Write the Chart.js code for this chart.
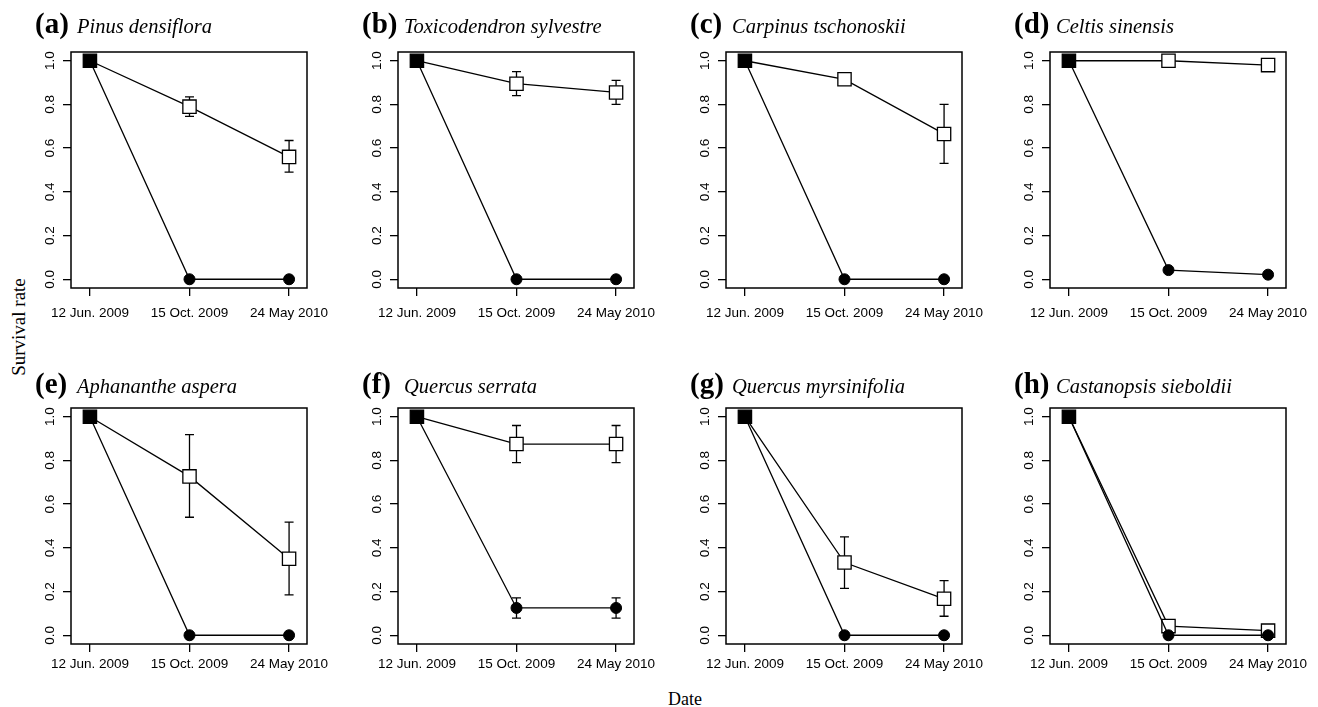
<!DOCTYPE html>
<html>
<head>
<meta charset="utf-8">
<script src="https://cdn.jsdelivr.net/npm/chart.js@4.4.1/dist/chart.umd.min.js"></script>
<style>
    html, body { margin: 0; padding: 0; background: #fff; }
    body { width: 1318px; height: 707px; position: relative; overflow: hidden; }
    canvas.panel { position: absolute; }
    .axis-title {
        position: absolute;
        font-family: 'Liberation Serif', 'Times New Roman', serif;
        color: #000;
        white-space: nowrap;
        text-align: center;
    }
    #yTitle { font-size: 19px; line-height: 20px; width: 120px; height: 20px; left: -41px; top: 317px; transform: rotate(-90deg); }
    #xTitle { font-size: 18px; line-height: 18px; width: 80px; left: 645px; top: 690px; }
</style>
</head>
<body>
<div class="axis-title" id="yTitle">Survival rate</div>
<div class="axis-title" id="xTitle">Date</div>
<script>
// sampling dates, shared by every panel
const dates = ['12 Jun. 2009', '15 Oct. 2009', '24 May 2010'];
const yTicks = [0, 0.2, 0.4, 0.6, 0.8, 1.0];

const panelLetters = ['(a)', '(b)', '(c)', '(d)', '(e)', '(f)', '(g)', '(h)'];
const speciesNames = [
    'Pinus densiflora', 'Toxicodendron sylvestre', 'Carpinus tschonoskii', 'Celtis sinensis',
    'Aphananthe aspera', 'Quercus serrata', 'Quercus myrsinifolia', 'Castanopsis sieboldii'
];

// open squares (one row per panel)
const squareMean = [
    [1, 0.79, 0.56],
    [1, 0.895, 0.855],
    [1, 0.915, 0.665],
    [1, 1, 0.98],
    [1, 0.727, 0.35],
    [1, 0.875, 0.875],
    [1, 0.333, 0.167],
    [1, 0.042, 0.021]
];
const squareLow = [
    [null, 0.745, 0.49],
    [null, 0.84, 0.80],
    [null, null, 0.53],
    [null, null, 0.965],
    [null, 0.54, 0.185],
    [null, 0.79, 0.79],
    [null, 0.215, 0.087],
    [null, null, null]
];
const squareHigh = [
    [null, 0.835, 0.635],
    [null, 0.95, 0.91],
    [null, null, 0.80],
    [null, null, 0.995],
    [null, 0.918, 0.518],
    [null, 0.96, 0.96],
    [null, 0.45, 0.25],
    [null, null, null]
];

// filled circles
const circleMean = [
    [1, 0, 0],
    [1, 0, 0],
    [1, 0, 0],
    [1, 0.042, 0.021],
    [1, 0, 0],
    [1, 0.125, 0.125],
    [1, 0, 0],
    [1, 0, 0]
];
const circleLow = [
    [null, null, null], [null, null, null], [null, null, null], [null, null, null],
    [null, null, null], [null, 0.078, 0.078], [null, null, null], [null, null, null]
];
const circleHigh = [
    [null, null, null], [null, null, null], [null, null, null], [null, null, null],
    [null, null, null], [null, 0.171, 0.171], [null, null, null], [null, null, null]
];

// layout of the plot boxes
const boxLefts = [71, 398, 726, 1050];
const boxTops = [52, 408];
const boxSize = 236;
const padTop = 40, padRight = 30, yAxisW = 45, xAxisH = 40;

const tickFont = { family: "'Liberation Sans', Arial, sans-serif", size: 13.5 };
const serif = "'Liberation Serif', 'Times New Roman', serif";

const errorBars = {
    id: 'errorBars',
    beforeDatasetsDraw(chart) {
        const ctx = chart.ctx;
        const yScale = chart.scales.y;
        ctx.save();
        ctx.strokeStyle = '#000';
        ctx.lineWidth = 1.3;
        chart.data.datasets.forEach((ds, i) => {
            const meta = chart.getDatasetMeta(i);
            (ds.errLow || []).forEach((lo, j) => {
                const hi = ds.errHigh[j];
                if (lo == null || hi == null) return;
                const x = meta.data[j].x;
                const yLo = yScale.getPixelForValue(lo);
                const yHi = yScale.getPixelForValue(hi);
                ctx.beginPath();
                ctx.moveTo(x, yLo); ctx.lineTo(x, yHi);
                ctx.moveTo(x - 4.5, yLo); ctx.lineTo(x + 4.5, yLo);
                ctx.moveTo(x - 4.5, yHi); ctx.lineTo(x + 4.5, yHi);
                ctx.stroke();
            });
        });
        ctx.restore();
    }
};

const frameAndTitle = {
    id: 'frameAndTitle',
    afterDraw(chart, args, opts) {
        const { ctx, chartArea } = chart;
        ctx.save();
        ctx.strokeStyle = '#000';
        ctx.lineWidth = 1.5;
        ctx.strokeRect(chartArea.left, chartArea.top, chartArea.right - chartArea.left, chartArea.bottom - chartArea.top);
        ctx.fillStyle = '#000';
        ctx.textBaseline = 'alphabetic';
        ctx.textAlign = 'left';
        const ty = chartArea.top - opts.gap;
        ctx.font = 'bold 29px ' + serif;
        ctx.fillText(opts.letter, chartArea.left - 36, ty);
        ctx.font = 'italic 20.5px ' + serif;
        ctx.fillText(opts.species, chartArea.left + 6, ty);
        ctx.restore();
    }
};

function noPadding(s) {
    s.paddingLeft = 0;
    s.paddingRight = 0;
    s.paddingTop = 0;
    s.paddingBottom = 0;
}

function makePanel(p) {
    const row = Math.floor(p / 4), col = p % 4;
    const canvas = document.createElement('canvas');
    canvas.className = 'panel';
    const w = yAxisW + boxSize + padRight;
    const h = padTop + boxSize + xAxisH;
    canvas.width = w;
    canvas.height = h;
    canvas.style.width = w + 'px';
    canvas.style.height = h + 'px';
    canvas.style.left = (boxLefts[col] - yAxisW) + 'px';
    canvas.style.top = (boxTops[row] - padTop) + 'px';
    document.body.appendChild(canvas);

    const toPoints = arr => arr.map((v, i) => ({ x: i + 1, y: v }));

    new Chart(canvas.getContext('2d'), {
        type: 'line',
        data: {
            datasets: [
                {
                    label: 'circle',
                    data: toPoints(circleMean[p]),
                    errLow: circleLow[p],
                    errHigh: circleHigh[p],
                    borderColor: '#000',
                    borderWidth: 1.3,
                    tension: 0,
                    pointStyle: 'circle',
                    pointRadius: 5.5,
                    pointBackgroundColor: '#000',
                    pointBorderColor: '#000',
                    pointBorderWidth: 1
                },
                {
                    label: 'square',
                    data: toPoints(squareMean[p]),
                    errLow: squareLow[p],
                    errHigh: squareHigh[p],
                    borderColor: '#000',
                    borderWidth: 1.3,
                    tension: 0,
                    pointStyle: 'rect',
                    pointRadius: 9.4,
                    pointBackgroundColor: squareMean[p].map((v, i) => i === 0 ? '#000' : '#fff'),
                    pointBorderColor: '#000',
                    pointBorderWidth: 1.3
                }
            ]
        },
        options: {
            responsive: false,
            animation: false,
            devicePixelRatio: 1,
            layout: { padding: { top: padTop, right: padRight, left: 0, bottom: 0 } },
            plugins: {
                legend: { display: false },
                tooltip: { enabled: false },
                frameAndTitle: { letter: panelLetters[p], species: speciesNames[p], gap: row === 0 ? 19 : 15 }
            },
            scales: {
                x: {
                    type: 'linear',
                    min: 0.81,
                    max: 3.18,
                    afterBuildTicks: s => { s.ticks = dates.map((d, i) => ({ value: i + 1 })); },
                    afterFit: s => { s.height = xAxisH; noPadding(s); },
                    border: { display: false },
                    grid: { drawOnChartArea: false, drawTicks: true, tickLength: 8, color: '#000', lineWidth: 1.3 },
                    ticks: {
                        callback: v => dates[Math.round(v) - 1],
                        font: tickFont,
                        color: '#000',
                        padding: row === 0 ? 9 : 4,
                        maxRotation: 0,
                        autoSkip: false
                    }
                },
                y: {
                    type: 'linear',
                    min: -0.04,
                    max: 1.04,
                    afterBuildTicks: s => { s.ticks = yTicks.map(v => ({ value: v })); },
                    afterFit: s => { s.width = yAxisW; noPadding(s); },
                    border: { display: false },
                    grid: { drawOnChartArea: false, drawTicks: true, tickLength: 8, color: '#000', lineWidth: 1.3 },
                    ticks: {
                        callback: v => v.toFixed(1),
                        font: tickFont,
                        color: '#000',
                        minRotation: 90,
                        maxRotation: 90,
                        crossAlign: 'center',
                        padding: 3
                    }
                }
            }
        },
        plugins: [errorBars, frameAndTitle]
    });
}

for (let p = 0; p < 8; p++) makePanel(p);
</script>
</body>
</html>
